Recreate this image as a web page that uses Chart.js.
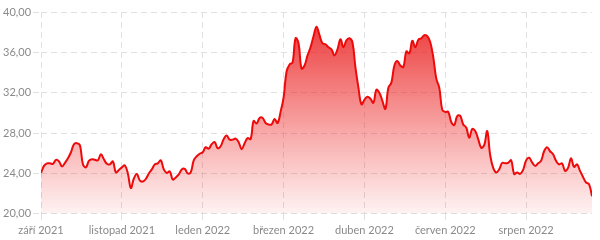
<!DOCTYPE html>
<html>
<head>
<meta charset="utf-8">
<script src="https://cdn.jsdelivr.net/npm/chart.js@4"></script>
<style>
    body { margin: 0; background: #fff; }
</style>
</head>
<body>
<canvas id="price" width="600" height="240"></canvas>
<script>
// month labels shown under the x axis, one every 27 trading days
const tickLabels = ['září 2021', 'listopad 2021', 'leden 2022', 'březen 2022', 'duben 2022', 'červen 2022', 'srpen 2022']
const daysPerTick = 27

// closing prices
const prices = [
    24.05, 24.75, 25.0, 25.0, 24.95, 25.35, 25.2, 24.7, 25.05, 25.5,
    26.1, 26.9, 27.0, 26.8, 24.9, 24.6, 25.25, 25.4, 25.35, 25.3,
    25.9, 25.4, 24.95, 24.9, 25.2, 24.1, 24.35, 24.6, 24.8, 24.0,
    22.55, 23.5, 23.95, 23.3, 23.2, 23.45, 24.0, 24.4, 24.9, 25.0,
    25.3, 24.4, 24.05, 24.2, 23.4, 23.6, 23.9, 24.4, 24.45, 24.0,
    24.1, 25.3, 25.7, 25.95, 26.1, 26.6, 26.45, 26.9, 27.1, 26.5,
    26.7, 27.4, 27.75, 27.35, 27.35, 27.45, 27.1, 26.4, 27.0, 27.5,
    27.4, 29.2, 28.95, 29.5, 29.5, 29.0, 28.85, 28.85, 29.4, 29.0,
    30.1, 31.5, 34.1, 34.8, 35.0, 37.4, 36.9, 34.4, 34.7, 35.7,
    36.5, 37.6, 38.55, 37.7, 36.9, 36.8, 36.5, 36.3, 35.7, 36.3,
    37.3, 36.5, 37.2, 37.4, 37.0, 34.5, 32.5, 30.85, 31.3, 31.6,
    31.4, 31.0, 32.3, 32.0, 31.2, 30.4, 32.5, 33.0, 34.7, 35.15,
    34.7, 34.55, 36.1, 35.9, 37.15, 36.5, 37.25, 37.4, 37.7, 37.6,
    37.0, 35.5, 33.4, 32.5, 30.3, 30.1, 30.1, 29.1, 28.8, 29.7,
    29.7, 28.85, 28.55, 27.55, 28.4, 28.2, 27.4, 26.55, 26.8, 28.2,
    25.8, 24.55, 24.1, 24.4, 25.05, 25.0, 25.05, 25.3, 23.95, 24.1,
    23.95, 24.35, 25.3, 25.55, 25.1, 24.75, 25.0, 25.25, 26.2, 26.6,
    26.2, 25.9, 25.25, 24.9, 25.0, 24.25, 24.55, 25.5, 24.65, 24.9,
    24.25, 23.65, 23.1, 22.95, 21.75
]

const yMin = 20
const yMax = 40
const yStep = 4

const gridStyle = {
    color: '#e0e0e0',
    lineWidth: 1,
    tickLength: 8,
    tickColor: '#e0e0e0',
    tickBorderDash: [6, 4]
}
const gridBorder = { display: false, dash: [6, 4] }

function redFill(context) {
    const area = context.chart.chartArea
    if (!area) return 'rgba(235, 20, 20, 0.5)'
    const g = context.chart.ctx.createLinearGradient(0, area.top, 0, area.bottom)
    g.addColorStop(0, 'rgba(232, 20, 20, 0.88)')
    g.addColorStop(1, 'rgba(240, 40, 40, 0.06)')
    return g
}

const ctx = document.getElementById('price')
new Chart(ctx, {
    type: 'line',
    data: {
        datasets: [{
            data: prices.map((y, x) => ({ x, y })),
            borderColor: '#ee0a0a',
            borderWidth: 2,
            backgroundColor: redFill,
            fill: 'start',
            pointRadius: 0,
            tension: 0.4
        }]
    },
    options: {
        responsive: false,
        animation: false,
        layout: { padding: { top: 12, right: 8, left: 1, bottom: 1 } },
        plugins: {
            legend: { display: false },
            tooltip: { enabled: false }
        },
        scales: {
            x: {
                type: 'linear',
                min: 0,
                max: prices.length - 1,
                grid: gridStyle,
                border: gridBorder,
                ticks: {
                    stepSize: daysPerTick,
                    includeBounds: false,
                    autoSkip: false,
                    maxRotation: 0,
                    color: '#8a8a8a',
                    font: { family: 'Lato', size: 11 },
                    padding: 2,
                    callback: (value) => tickLabels[value / daysPerTick] || ''
                }
            },
            y: {
                min: yMin,
                max: yMax,
                grid: gridStyle,
                border: gridBorder,
                ticks: {
                    stepSize: yStep,
                    color: '#8a8a8a',
                    font: { family: 'Lato', size: 11 },
                    padding: 2,
                    callback: (value) => value.toFixed(2).replace('.', ',')
                }
            }
        }
    }
})
</script>
</body>
</html>
